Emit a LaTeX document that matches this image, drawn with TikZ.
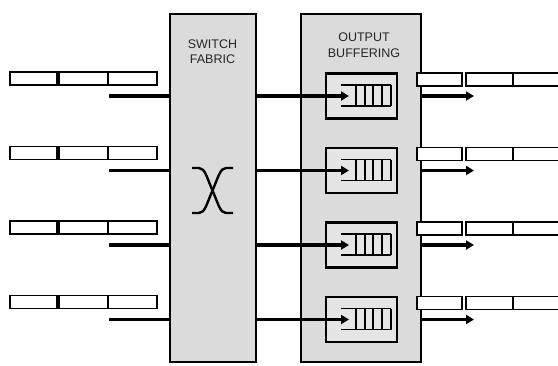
\documentclass[tikz,border=0pt]{standalone}
\usepackage{fontspec}
\setmainfont{Liberation Sans}
\usetikzlibrary{arrows.meta}
\begin{document}
\begin{tikzpicture}[x=1pt,y=-1pt,
 cell/.style={draw=black, fill=white, line width=1.2pt, minimum height=13pt, inner sep=0pt, outer sep=0pt, anchor=north west},
 bigbox/.style={draw=black, fill=black!14, line width=2.4pt, inner sep=0pt, outer sep=0pt, anchor=north west},
 qbox/.style={draw=black, fill=black!10, line width=2.2pt, minimum width=71pt, minimum height=45pt, inner sep=0pt, outer sep=0pt},
 flow/.style={line width=3.4pt},
 arr/.style={line width=3.4pt, -{Triangle[length=8pt,width=9pt]}},
 qline/.style={line width=1.2pt},
 divider/.style={line width=2.4pt},
 cross/.style={line width=2.4pt},
 lbl/.style={font=\fontsize{12.5}{15}\selectfont, text=black!85, inner sep=0pt, anchor=base}
]
\useasboundingbox (0,0) rectangle (558,365);
\clip (0,0) rectangle (558,365);
\fill[white] (0,0) rectangle (558,365);

% main boxes
\node[bigbox, minimum width=86pt, minimum height=348pt] (fabric) at (170,14) {};
\node[bigbox, minimum width=120pt, minimum height=348pt] (buf) at (301,14) {};

% labels
\node[lbl] (sw) at (212.5,48) {SWITCH};
\node[lbl] (fa) at (212.5,63) {FABRIC};
\node[lbl] (ou) at (364,41) {OUTPUT};
\node[lbl] (bu) at (364,57) {BUFFERING};

% crossbar symbol
\draw[cross] (192,168) -- (199,168) .. controls (205,168) and (207,178) .. (212.5,190.5) .. controls (218,203) and (220,213) .. (226,213) -- (233,213);
\draw[cross] (233,168) -- (226,168) .. controls (220,168) and (218,178) .. (212.5,190.5) .. controls (207,203) and (205,213) .. (199,213) -- (192,213);

\foreach \i/\d in {1/0,2/74.5,3/149,4/223.5}{
  % input queue cells
  \node[cell, minimum width=47pt] (ina\i) at (10,{72+\d}) {};
  \node[cell, minimum width=49pt] (inb\i) at (59,{72+\d}) {};
  \node[cell, minimum width=49pt] (inc\i) at (108,{72+\d}) {};
  \draw[divider] (inc\i.north west) -- (inc\i.south west);
  % input line into the fabric
  \coordinate (ins\i) at (109,{96+\d});
  \draw[flow] (ins\i) -- (fabric.west |- ins\i);
  % output queue box
  \node[qbox] (q\i) at (361.5,{96+\d}) {};
  \draw[qline] (341,{85+\d}) -- (391,{85+\d});
  \draw[qline] (341,{106+\d}) -- (391,{106+\d});
  \foreach \x in {356,365,373,382,391}{
    \draw[qline] (\x,{85+\d}) -- (\x,{106+\d});
  }
  % arrow from fabric into queue
  \coordinate (qin\i) at (349,{96+\d});
  \draw[arr] (fabric.east |- ins\i) -- (qin\i);
  % output line cells
  \node[cell, minimum width=45pt] (outa\i) at (417,{73+\d}) {};
  \node[cell, minimum width=47pt] (outb\i) at (466,{73+\d}) {};
  \node[cell, minimum width=50pt] (outc\i) at (513,{73+\d}) {};
  \draw[divider] (outc\i.north west) -- (outc\i.south west);
  % output arrow
  \coordinate (oend\i) at (474,{96+\d});
  \draw[arr] (buf.east |- ins\i) -- (oend\i);
}
\end{tikzpicture}
\end{document}
